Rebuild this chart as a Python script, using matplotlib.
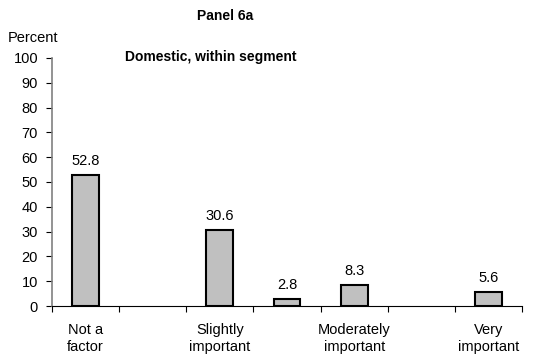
import matplotlib
matplotlib.use('Agg')
import matplotlib.pyplot as plt

plt.rcParams['font.family'] = ['Liberation Sans', 'DejaVu Sans']

# data
categories = ['Not a\nfactor', '', 'Slightly\nimportant', '', 'Moderately\nimportant', '', 'Very\nimportant']
values = [52.8, 0, 30.6, 2.8, 8.3, 0, 5.6]
y_ticks = list(range(0, 101, 10))

fig = plt.figure(figsize=(5.36, 3.6), dpi=100)
ax = fig.add_axes([0.097, 0.15, 0.877, 0.689])

x = list(range(len(values)))
shown = [i for i, v in enumerate(values) if v > 0]
ax.bar([x[i] for i in shown], [values[i] for i in shown], width=0.4,
       color='#c0c0c0', edgecolor='black', linewidth=1.5, zorder=3)

for i in shown:
    ax.annotate(f'{values[i]:.1f}', (x[i], values[i]), xytext=(0, 5),
                textcoords='offset points', ha='center', va='bottom', fontsize=10.5)

ax.set_xlim(-0.5, len(values) - 0.5)
ax.set_ylim(0, 100)
ax.set_yticks(y_ticks)
ax.tick_params(axis='y', labelsize=10.5, length=4, width=0.8, pad=6)

ax.set_xticks(x)
ax.set_xticklabels(categories, fontsize=10.5, linespacing=1.3)
ax.set_xticks([i - 0.5 for i in range(len(values) + 1)], minor=True)
ax.tick_params(axis='x', which='major', length=0, pad=12)
ax.tick_params(axis='x', which='minor', length=4, width=0.8)

for side in ('top', 'right'):
    ax.spines[side].set_visible(False)
ax.spines['left'].set_color('#808080')
ax.spines['left'].set_linewidth(1.2)
ax.spines['bottom'].set_linewidth(0.8)

fig.text(225 / 536, 1 - 16 / 360, 'Panel 6a', ha='center', va='center', fontsize=10, fontweight='bold')
fig.text(8 / 536, 1 - 38 / 360, 'Percent', ha='left', va='center', fontsize=10.5)
fig.text(211 / 536, 1 - 57 / 360, 'Domestic, within segment', ha='center', va='center', fontsize=10, fontweight='bold')

fig.savefig('out.png', dpi=100)
